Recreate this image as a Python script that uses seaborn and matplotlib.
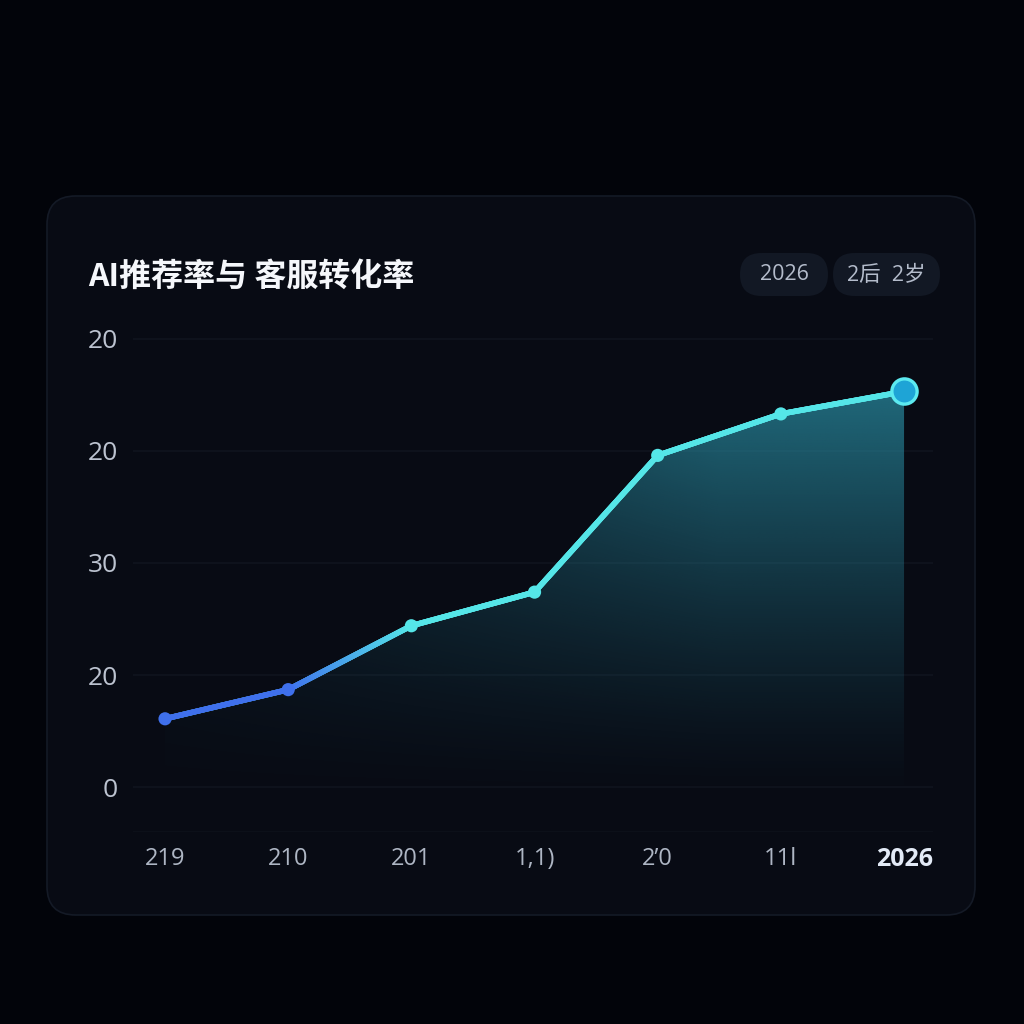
import numpy as np
import pandas as pd
import matplotlib.pyplot as plt
import seaborn as sns
from matplotlib.collections import LineCollection
from matplotlib.patches import FancyBboxPatch
from matplotlib.colors import to_rgb

# 图表数据
years = ["219", "210", "201", "1,1)", "2’0", "11l", "2026"]
rates = [6.1, 8.7, 14.4, 17.4, 29.6, 33.3, 35.3]
y_ticks = [0, 10, 20, 30, 40]
y_tick_labels = ["0", "20", "30", "20", "20"]
title = "AI推荐率与 客服转化率"
pill_labels = ["2026", "2后  2岁"]

BG = "#02040a"
CARD = "#080b14"
BLUE = "#3f70ec"
CYAN = "#55e6e8"

sns.set_theme(style="dark")
plt.rcParams['font.family'] = ['Open Sans', 'Noto Sans CJK SC', 'DejaVu Sans']
plt.rcParams['axes.unicode_minus'] = False

fig = plt.figure(figsize=(10.24, 10.24), dpi=100, facecolor=BG)

# 卡片背景
card = FancyBboxPatch((47 / 1024, 1 - 915 / 1024), 928 / 1024, 719 / 1024,
                      boxstyle="round,pad=0,rounding_size=0.028",
                      transform=fig.transFigure, facecolor=CARD,
                      edgecolor="#141a26", linewidth=1.2, zorder=-2)
fig.patches.append(card)

# 标题
fig.text(88 / 1024, 1 - 277 / 1024, title, fontsize=23, fontweight='bold',
         color="#f5f7fb", va='center', ha='left',
         family=['Noto Sans CJK SC', 'DejaVu Sans'])

# 右上角按钮
pills = [(740, 828), (833, 940)]
for (x0, x1), lab in zip(pills, pill_labels):
    p = FancyBboxPatch((x0 / 1024, 1 - 296 / 1024), (x1 - x0) / 1024, 43 / 1024,
                       boxstyle="round,pad=0,rounding_size=0.021",
                       transform=fig.transFigure, facecolor="#121824",
                       edgecolor="none", zorder=-1)
    fig.patches.append(p)
    fig.text((x0 + x1) / 2 / 1024, 1 - 275 / 1024, lab, fontsize=15.5,
             color="#b4bccb", ha='center', va='center',
             family=['Open Sans', 'Noto Sans CJK SC'])

ax = fig.add_axes([133 / 1024, 192 / 1024, 800 / 1024, 510 / 1024])
ax.set_zorder(2)
ax.set_facecolor("none")
ax.patch.set_alpha(0)

df = pd.DataFrame({"pos": np.arange(len(years)), "rate": rates,
                   "grp": ["blue", "blue"] + ["cyan"] * (len(years) - 2)})

ax.set_xlim(-0.26, 6.235)
ax.set_ylim(-4, 41.5)

# 网格线
for yt in y_ticks:
    ax.axhline(yt, color="#10151f", lw=1.1, zorder=0)
ax.axhline(-4, color="#0d121b", lw=1.2, zorder=0)

# 面积渐变填充
poly = ax.fill_between(df["pos"], df["rate"], -4, color="none", lw=0)
gx = np.linspace(0, 6, 300)
gy = np.linspace(-4, 36, 300)
GX, GY = np.meshgrid(gx, gy)
alpha = np.clip((GY + 1) / 37, 0, 1) ** 1.3 * 0.72
alpha *= 0.3 + 0.7 * np.clip(GX / 4.5, 0, 1)
img = np.zeros((300, 300, 4))
img[..., :3] = to_rgb("#2a90a6")
img[..., 3] = alpha
im = ax.imshow(img, extent=[0, 6, -4, 36], origin='lower', aspect='auto',
               zorder=1, interpolation='bilinear')
im.set_clip_path(poly.get_paths()[0], transform=ax.transData)

# 折线
sns.lineplot(data=df, x="pos", y="rate", ax=ax, color=CYAN, lw=4, zorder=2)
xs = np.linspace(0, 6, 700)
ys = np.interp(xs, df["pos"], df["rate"])
pts = np.column_stack([xs, ys]).reshape(-1, 1, 2)
segs = np.concatenate([pts[:-1], pts[1:]], axis=1)
t = np.clip(xs[:-1] - 1, 0, 1)[:, None]
cols = (1 - t) * np.array(to_rgb(BLUE)) + t * np.array(to_rgb(CYAN))
ax.add_collection(LineCollection(segs, colors=cols, linewidths=4, capstyle='round', zorder=3))

# 数据点
sns.scatterplot(data=df.iloc[:-1], x="pos", y="rate", hue="grp",
                palette={"blue": BLUE, "cyan": CYAN}, s=90, edgecolor="none",
                legend=False, ax=ax, zorder=4)
sns.scatterplot(data=df.iloc[-1:], x="pos", y="rate", s=330, color="#1ea4d6",
                edgecolor="#5ceaf0", linewidth=2.4, legend=False, ax=ax, zorder=5)

# 坐标轴
ax.set_xticks(df["pos"])
ax.set_xticklabels(years)
ax.set_yticks(y_ticks)
ax.set_yticklabels(y_tick_labels)
ax.tick_params(axis='y', length=0, pad=11, labelsize=19, labelcolor="#bcc3d0")
ax.tick_params(axis='x', length=0, pad=11, labelsize=17, labelcolor="#aeb6c4")
last = ax.get_xticklabels()[-1]
last.set_fontweight('bold')
last.set_fontsize(18)
last.set_color("#e2eaf6")
ax.set_xlabel("")
ax.set_ylabel("")
ax.grid(False)
for s in ax.spines.values():
    s.set_visible(False)

fig.savefig("out.png", dpi=100, facecolor=BG)
